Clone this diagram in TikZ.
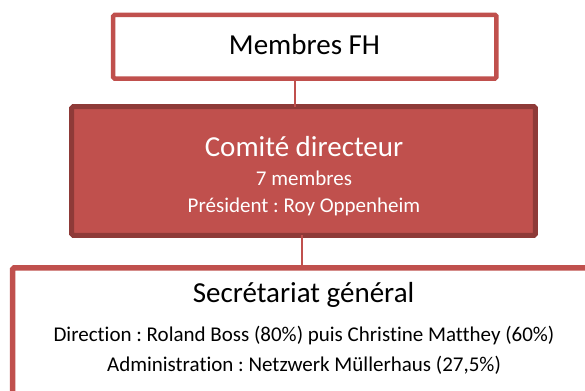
\documentclass[tikz,border=0pt]{standalone}
\usepackage{fontspec}
\setmainfont{Carlito}[Ligatures=NoCommon]
\usepackage{tikz}
\usetikzlibrary{calc}
\usetikzlibrary{positioning}
\frenchspacing

\definecolor{fhred}{HTML}{C0504D}
\definecolor{fhdark}{HTML}{8E3A38}

\begin{document}
\begin{tikzpicture}[x=1bp, y=-1bp,
        box/.style={shape=rectangle, draw=fhred, line width=4.5bp, rounded corners=1.5bp, inner sep=0pt, outer sep=0pt},
        title/.style={anchor=base, font=\fontsize{29bp}{35bp}\selectfont},
        sub/.style={anchor=base, font=\fontsize{21bp}{25bp}\selectfont},
        link/.style={draw=fhred, line width=2bp}]
        \useasboundingbox (0,0) rectangle (585,390);
        \clip (0,0) rectangle (585,390);

        % boxes
        \node (membres) at (304.8,46.7) [box, fill=white, minimum width=383.3bp, minimum height=63.7bp] {};
        \node (comite) at (303.6,170.9) [box, draw=fhdark, fill=fhred, line width=5bp, minimum width=463.7bp, minimum height=128.7bp] {};
        \node (secretariat) at (356.4,500) [box, fill=white, line width=5.5bp, minimum width=687.3bp, minimum height=464.4bp] {};

        % texts
        \node (t1) at (304.5,54) [title] {Membres FH};
        \node (t2) at (304,156) [title, text=white] {Comité directeur};
        \node (t3) at (304,185) [sub, text=white] {7 membres};
        \node (t4) at (304,212.5) [sub, text=white] {Président : Roy Oppenheim};
        \node (t5) at (303.5,302) [title] {Secrétariat général};
        \node (t6) at (304,341.7) [sub] {Direction : Roland Boss (80\%) puis Christine Matthey (60\%)};
        \node (t7) at (304,371.7) [sub] {Administration : Netzwerk Müllerhaus (27,5\%)};

        % connections
        \coordinate (c1) at (295,0);
        \coordinate (c2) at (301.7,0);
        \path[link] (c1 |- membres.south) -- (c1 |- comite.north);
        \path[link] (c2 |- comite.south) -- (c2 |- secretariat.north);
\end{tikzpicture}
\end{document}
